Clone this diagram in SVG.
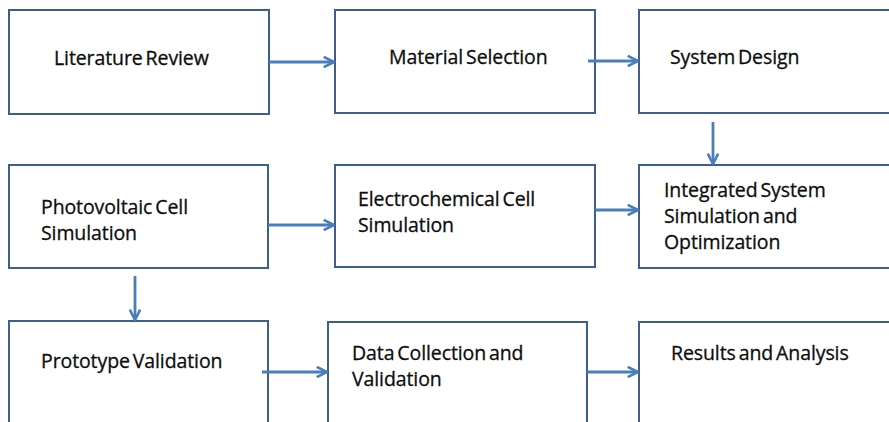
<svg xmlns="http://www.w3.org/2000/svg" width="889" height="422" viewBox="0 0 889 422">
  <style>
    .box { fill: #ffffff; stroke: #3d5f8e; stroke-width: 2; }
    .lbl { font-family: "Open Sans", "Liberation Sans", sans-serif; font-size: 19.5px; fill: #0d0d0d; stroke: #0d0d0d; stroke-width: 0.3; letter-spacing: -0.1px; word-spacing: -2px; }
    .conn { stroke: #4a7ebb; stroke-width: 2.8; fill: none; marker-end: url(#head); }
  </style>
  <defs>
    <marker id="head" viewBox="0 0 10 10" refX="9" refY="5" markerWidth="4.6" markerHeight="4.6" orient="auto" markerUnits="strokeWidth">
      <path d="M1,1 L9,5 L1,9" fill="none" stroke="#4a7ebb" stroke-width="2" stroke-linejoin="miter"/>
    </marker>
  </defs>
  <rect width="889" height="422" fill="#ffffff"/>

  <g id="literature-review">
    <rect class="box" x="9" y="10" width="260" height="104"/>
    <text class="lbl" x="54" y="65">Literature Review</text>
  </g>
  <g id="material-selection">
    <rect class="box" x="335" y="10" width="260" height="103"/>
    <text class="lbl" x="389" y="64">Material Selection</text>
  </g>
  <g id="system-design">
    <rect class="box" x="639" y="10" width="260" height="103"/>
    <text class="lbl" x="670" y="64">System Design</text>
  </g>
  <g id="pv-cell-simulation">
    <rect class="box" x="9" y="165" width="259" height="103"/>
    <text class="lbl" x="41" y="214">Photovoltaic Cell</text>
    <text class="lbl" x="41" y="240">Simulation</text>
  </g>
  <g id="ec-cell-simulation">
    <rect class="box" x="335" y="165" width="260" height="102"/>
    <text class="lbl" x="358" y="206">Electrochemical Cell</text>
    <text class="lbl" x="358" y="232">Simulation</text>
  </g>
  <g id="integrated-system">
    <rect class="box" x="639" y="165" width="260" height="103"/>
    <text class="lbl" x="664" y="197">Integrated System</text>
    <text class="lbl" x="664" y="223">Simulation and</text>
    <text class="lbl" x="664" y="249">Optimization</text>
  </g>
  <g id="prototype-validation">
    <rect class="box" x="9" y="321" width="259" height="120"/>
    <text class="lbl" x="41" y="368">Prototype Validation</text>
  </g>
  <g id="data-collection">
    <rect class="box" x="328" y="322" width="259" height="120"/>
    <text class="lbl" x="352" y="360">Data Collection and</text>
    <text class="lbl" x="352" y="386">Validation</text>
  </g>
  <g id="results-analysis">
    <rect class="box" x="639" y="322" width="260" height="120"/>
    <text class="lbl" x="671" y="360">Results and Analysis</text>
  </g>

  <g id="connectors">
    <line class="conn" x1="269" y1="62" x2="334" y2="62"/>
    <line class="conn" x1="588" y1="61" x2="638" y2="61"/>
    <line class="conn" x1="713" y1="122" x2="713" y2="164"/>
    <line class="conn" x1="268" y1="225" x2="334" y2="225"/>
    <line class="conn" x1="595" y1="210" x2="638" y2="210"/>
    <line class="conn" x1="135" y1="276" x2="135" y2="320"/>
    <line class="conn" x1="262" y1="372" x2="327" y2="372"/>
    <line class="conn" x1="587" y1="372" x2="638" y2="372"/>
  </g>
</svg>
